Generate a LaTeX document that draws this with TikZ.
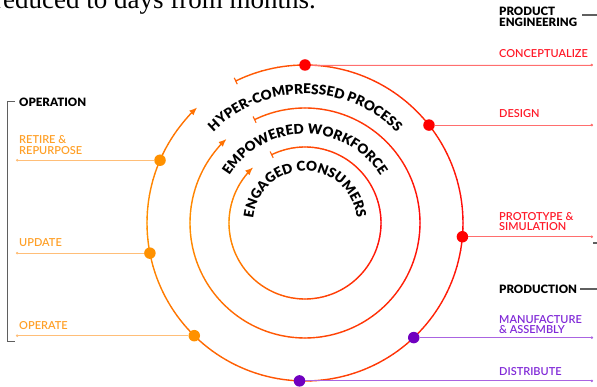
\documentclass[tikz,border=0pt]{standalone}
\usepackage{fontspec}
\setmainfont{Lato}
\newfontfamily\labfont{Lato Semibold}
\newfontfamily\heavyfont{Lato Black}
\newfontfamily\seriffont{Liberation Serif}
\usetikzlibrary{arrows.meta,decorations.text,calc}
\definecolor{ringred}{RGB}{255,10,10}
\definecolor{ringorange}{RGB}{255,145,0}
\definecolor{dotred}{RGB}{255,0,0}
\definecolor{dotorange}{RGB}{255,145,0}
\definecolor{dotpurple}{RGB}{112,0,192}
\definecolor{txtred}{RGB}{255,25,40}
\definecolor{txtorange}{RGB}{255,160,40}
\definecolor{txtpurple}{RGB}{128,40,215}
\definecolor{linered}{RGB}{255,110,110}
\definecolor{lineorange}{RGB}{255,190,120}
\definecolor{linepurple}{RGB}{170,100,225}
\definecolor{brk}{RGB}{95,95,95}
\pgfdeclarelayer{bg}
\pgfsetlayers{bg,main}
\begin{document}
\begin{tikzpicture}[x=1pt,y=1pt,
  ring/.style={line width=1.4pt},
  dotn/.style={circle,inner sep=0pt,minimum size=11.5pt},
  lead/.style={line width=0.9pt,-{Circle[length=2.4pt]}},
  lab/.style={anchor=west,inner sep=0pt,align=left,font=\labfont\fontsize{11}{10.8}\selectfont},
  head/.style={anchor=west,inner sep=0pt,align=left,font=\heavyfont\fontsize{11.5}{11}\selectfont},
  arctext/.style={decorate,decoration={text along path,text align=center,text={|\heavyfont\fontsize{13.5}{13.5}\selectfont|#1}}},
  brkline/.style={draw=brk,line width=1.1pt}
]
\useasboundingbox (0,0) rectangle (597,387);
\coordinate (C) at (305,164);
\coordinate (R) at (593,0);
\coordinate (L) at (16,0);
\coordinate (E) at (600,0);

% cropped heading text at the top
\node[anchor=base east,inner sep=0pt,font=\seriffont\fontsize{27}{27}\selectfont] (toptext) at (316,378) {reduced to days from months.};

% dots on the outer ring
\node[dotn,fill=dotred] (d1) at ($(C)+(90:158)$) {};
\node[dotn,fill=dotred] (d2) at ($(C)+(38.3:158)$) {};
\node[dotn,fill=dotred] (d3) at ($(C)+(-5:158)$) {};
\node[dotn,fill=dotpurple] (d4) at ($(C)+(-46.5:158)$) {};
\node[dotn,fill=dotpurple] (d5) at ($(C)+(-92:158)$) {};
\node[dotn,fill=dotorange] (d6) at ($(C)+(-134.5:158)$) {};
\node[dotn,fill=dotorange] (d7) at ($(C)+(-169:158)$) {};
\node[dotn,fill=dotorange] (d8) at ($(C)+(156.6:158)$) {};

\begin{pgfonlayer}{bg}
% rings with colour gradient
\foreach \r in {158,115,76}{
  \foreach \k in {0,...,166}{
    \pgfmathsetmacro\aa{116-2*\k}
    \pgfmathsetmacro\ab{\aa-2}
    \pgfmathsetmacro\am{\aa-1}
    \pgfmathsetmacro\ph{(\am<-180) ? (\am+360) : (\am)}
    \pgfmathtruncatemacro\tt{abs(\ph)/180*100}
    \draw[ring,line cap=round,draw=ringorange!\tt!ringred] ($(C)+(\aa:\r)$) arc[start angle=\aa,end angle=\ab,radius=\r];
  }
  \draw[ring,draw=ringorange!77!ringred,-{Latex[length=8pt,width=6.5pt]}] ($(C)+(-218:\r)$) arc[start angle=-218,end angle=-227,radius=\r];
  \pgfmathsetmacro\ri{\r-3.5}
  \pgfmathsetmacro\ro{\r+3.5}
  \draw[line width=1.1pt,draw=ringorange!64!ringred] ($(C)+(116:\ri)$) -- ($(C)+(116:\ro)$);
}
% leader lines
\draw[lead,draw=linered,fill=linered] (d1) -- (d1 -| R);
\draw[lead,draw=linered,fill=linered] (d2) -- (d2 -| R);
\draw[lead,draw=linered,fill=linered] (d3) -- (d3 -| R);
\draw[lead,draw=linepurple,fill=linepurple] (d4) -- (d4 -| R);
\draw[lead,draw=linepurple,fill=linepurple] (d5) -- (d5 -| R);
\draw[lead,draw=lineorange,fill=lineorange] (d6) -- (d6 -| L);
\draw[lead,draw=lineorange,fill=lineorange] (d7) -- (d7 -| L);
\draw[lead,draw=lineorange,fill=lineorange] (d8) -- (d8 -| L);
\end{pgfonlayer}

% texts along the rings
\path[arctext={HYPER-COMPRESSED PROCESS}] ($(C)+(160:129)$) arc[start angle=160,end angle=20,radius=129];
\path[arctext={EMPOWERED WORKFORCE}] ($(C)+(170:89)$) arc[start angle=170,end angle=10,radius=89];
\path[arctext={ENGAGED CONSUMERS}] ($(C)+(185:52)$) arc[start angle=185,end angle=-5,radius=52];

% labels right
\node[head] (pe) at (499,370) {PRODUCT\\ENGINEERING};
\node[lab,text=txtred] (t1) at (499,333) {CONCEPTUALIZE};
\node[lab,text=txtred] (t2) at (499,273) {DESIGN};
\node[lab,text=txtred] (t3) at (499,165.5) {PROTOTYPE \&\\SIMULATION};
\node[head] (prod) at (499,98) {PRODUCTION};
\node[lab,text=txtpurple] (t4) at (499,62.5) {MANUFACTURE\\\& ASSEMBLY};
\node[lab,text=txtpurple] (t5) at (499,15) {DISTRIBUTE};
% labels left
\node[head] (op) at (19,285) {OPERATION};
\node[lab,text=txtorange] (t8) at (19,242) {RETIRE \&\\REPURPOSE};
\node[lab,text=txtorange] (t7) at (19,144) {UPDATE};
\node[lab,text=txtorange] (t6) at (19,61) {OPERATE};

% gray brackets
\coordinate (pa) at (582,372);
\draw[brkline] (pa) -- (pa -| E);
\draw[brkline] ([xshift=3pt]prod.east) -- (prod.east -| E);
\coordinate (pt) at (593,144);
\draw[brkline] (pt) -- (pt -| E);
\coordinate (b1) at (15,285.5);
\coordinate (b2) at (7.5,285.5);
\coordinate (b3) at (7.5,45.3);
\coordinate (b4) at (15,45.3);
\draw[brkline] (b1) -- (b2) -- (b3) -- (b4);
\end{tikzpicture}
\end{document}
